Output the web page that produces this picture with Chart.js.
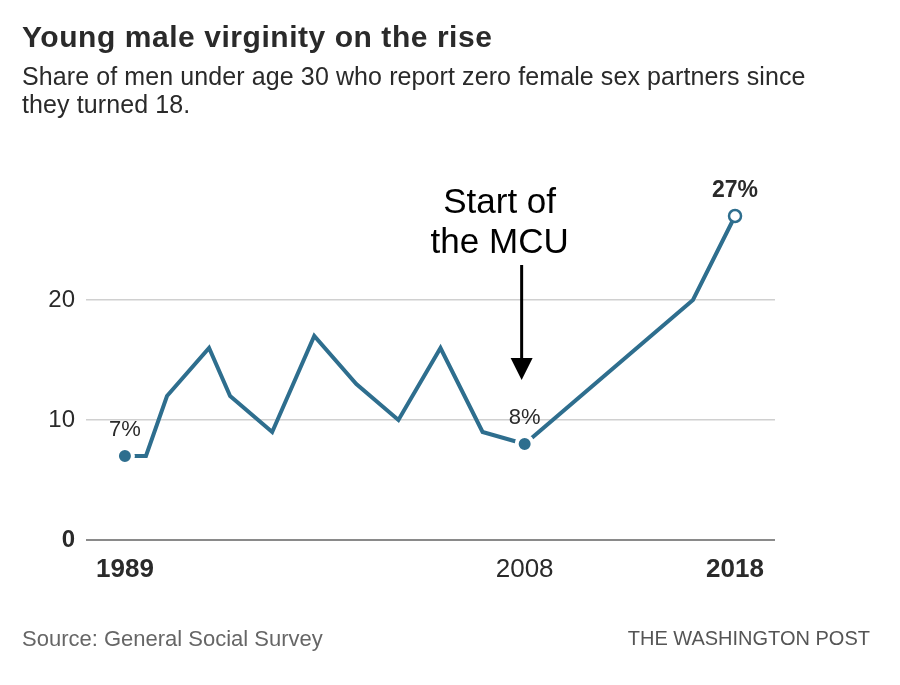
<!DOCTYPE html>
<html>
<head>
<meta charset="utf-8">
<script src="https://cdn.jsdelivr.net/npm/chart.js@4.4.1/dist/chart.umd.min.js"></script>
<style>
  body { margin: 0; background: #fff; }
  #wrap { position: relative; width: 900px; height: 685px; overflow: hidden; font-family: "Liberation Sans", Arial, sans-serif; }
  #chart { position: absolute; left: 0; top: 0; }
  .txt { position: absolute; white-space: nowrap; }
  #title { left: 22px; top: 20px; font-size: 30px; font-weight: bold; color: #2a2a2a; letter-spacing: 0.55px; }
  #sub { left: 22px; top: 62px; font-size: 25px; line-height: 28px; color: #2a2a2a; letter-spacing: 0.1px; }
  #source { left: 22px; top: 626px; font-size: 22px; color: #666; }
  #credit { right: 30px; top: 627px; font-size: 20px; color: #555; }
</style>
</head>
<body>
<div id="wrap">
  <canvas id="chart" width="900" height="685"></canvas>
  <div class="txt" id="title">Young male virginity on the rise</div>
  <div class="txt" id="sub">Share of men under age 30 who report zero female sex partners since<br>they turned 18.</div>
  <div class="txt" id="source">Source: General Social Survey</div>
  <div class="txt" id="credit">THE WASHINGTON POST</div>
</div>
<script>
// survey years and share of young men reporting no female partners (%)
var years  = [1989, 1990, 1991, 1993, 1994, 1996, 1998, 2000, 2002, 2004, 2006, 2008, 2016, 2018];
var shares = [7, 7, 12, 16, 12, 9, 17, 13, 10, 16, 9, 8, 20, 27];

var xTicks = [1989, 2008, 2018];
var boldYears = [1989, 2018];
var yTicks = [0, 10, 20];
var labelYears = [1989, 2008, 2018];
var noteLines = ['Start of', 'the MCU'];
var noteYear = 2008;

var blue = '#2e6e8e';
var font = '"Liberation Sans", Arial, sans-serif';

function isLast(i) { return i === years.length - 1; }
function isLabelled(i) { return labelYears.indexOf(years[i]) >= 0; }

var labelsPlugin = {
  id: 'labels',
  afterDatasetsDraw: function (chart) {
    var ctx = chart.ctx;
    var meta = chart.getDatasetMeta(0);
    ctx.save();
    ctx.textAlign = 'center';
    ctx.textBaseline = 'middle';
    years.forEach(function (yr, i) {
      if (!isLabelled(i)) return;
      var pt = meta.data[i];
      ctx.fillStyle = '#2a2a2a';
      ctx.font = (isLast(i) ? 'bold 23px ' : '22px ') + font;
      ctx.fillText(shares[i] + '%', pt.x, pt.y - (isLast(i) ? 25 : 26));
    });

    // annotation with arrow
    var np = meta.data[years.indexOf(noteYear)];
    var top = chart.chartArea.top;
    ctx.fillStyle = '#000';
    ctx.font = '35px ' + font;
    noteLines.forEach(function (t, k) {
      ctx.fillText(t, np.x - 25, top + 23 + k * 40);
    });
    var ax = np.x - 3;
    var tip = np.y - 64;
    ctx.strokeStyle = '#000';
    ctx.lineWidth = 3;
    ctx.beginPath();
    ctx.moveTo(ax, top + 85);
    ctx.lineTo(ax, tip - 18);
    ctx.stroke();
    ctx.beginPath();
    ctx.moveTo(ax - 11, tip - 22);
    ctx.lineTo(ax + 11, tip - 22);
    ctx.lineTo(ax, tip);
    ctx.closePath();
    ctx.fill();
    ctx.restore();
  }
};

new Chart(document.getElementById('chart'), {
  type: 'line',
  data: {
    datasets: [{
      data: years.map(function (y, i) { return { x: y, y: shares[i] }; }),
      borderColor: blue,
      borderWidth: 4,
      tension: 0,
      pointRadius: function (c) { return isLabelled(c.dataIndex) ? (isLast(c.dataIndex) ? 6 : 8) : 0; },
      pointBackgroundColor: function (c) { return isLast(c.dataIndex) ? '#fff' : blue; },
      pointBorderColor: function (c) { return isLast(c.dataIndex) ? blue : '#fff'; },
      pointBorderWidth: function (c) { return isLast(c.dataIndex) ? 2.5 : 4; }
    }]
  },
  options: {
    responsive: false,
    animation: false,
    devicePixelRatio: 1,
    layout: { padding: { top: 180, right: 125, left: 0, bottom: 0 } },
    plugins: { legend: { display: false }, tooltip: { enabled: false } },
    scales: {
      x: {
        type: 'linear',
        min: 1987.15,
        max: 2019.9,
        grid: { display: false, drawTicks: false },
        border: { display: false },
        afterBuildTicks: function (s) { s.ticks = xTicks.map(function (v) { return { value: v }; }); },
        afterFit: function (s) { s.height = 145; },
        ticks: {
          autoSkip: false,
          maxRotation: 0,
          padding: 14,
          color: '#2a2a2a',
          font: function (c) {
            return { family: font, size: 26, weight: boldYears.indexOf(c.tick && c.tick.value) >= 0 ? 'bold' : 'normal' };
          },
          callback: function (v) { return String(v); }
        }
      },
      y: {
        min: 0,
        max: 30,
        grid: {
          drawTicks: false,
          color: function (c) { return c.tick && c.tick.value === 0 ? '#8a8a8a' : '#d0d0d0'; },
          lineWidth: function (c) { return c.tick && c.tick.value === 0 ? 2 : 1.5; }
        },
        border: { display: false },
        afterBuildTicks: function (s) { s.ticks = yTicks.map(function (v) { return { value: v }; }); },
        afterFit: function (s) { s.width = 86; },
        ticks: {
          padding: 11,
          color: '#2a2a2a',
          font: function (c) {
            return { family: font, size: 24, weight: c.tick && c.tick.value === 0 ? 'bold' : 'normal' };
          }
        }
      }
    }
  },
  plugins: [labelsPlugin]
});
</script>
</body>
</html>
